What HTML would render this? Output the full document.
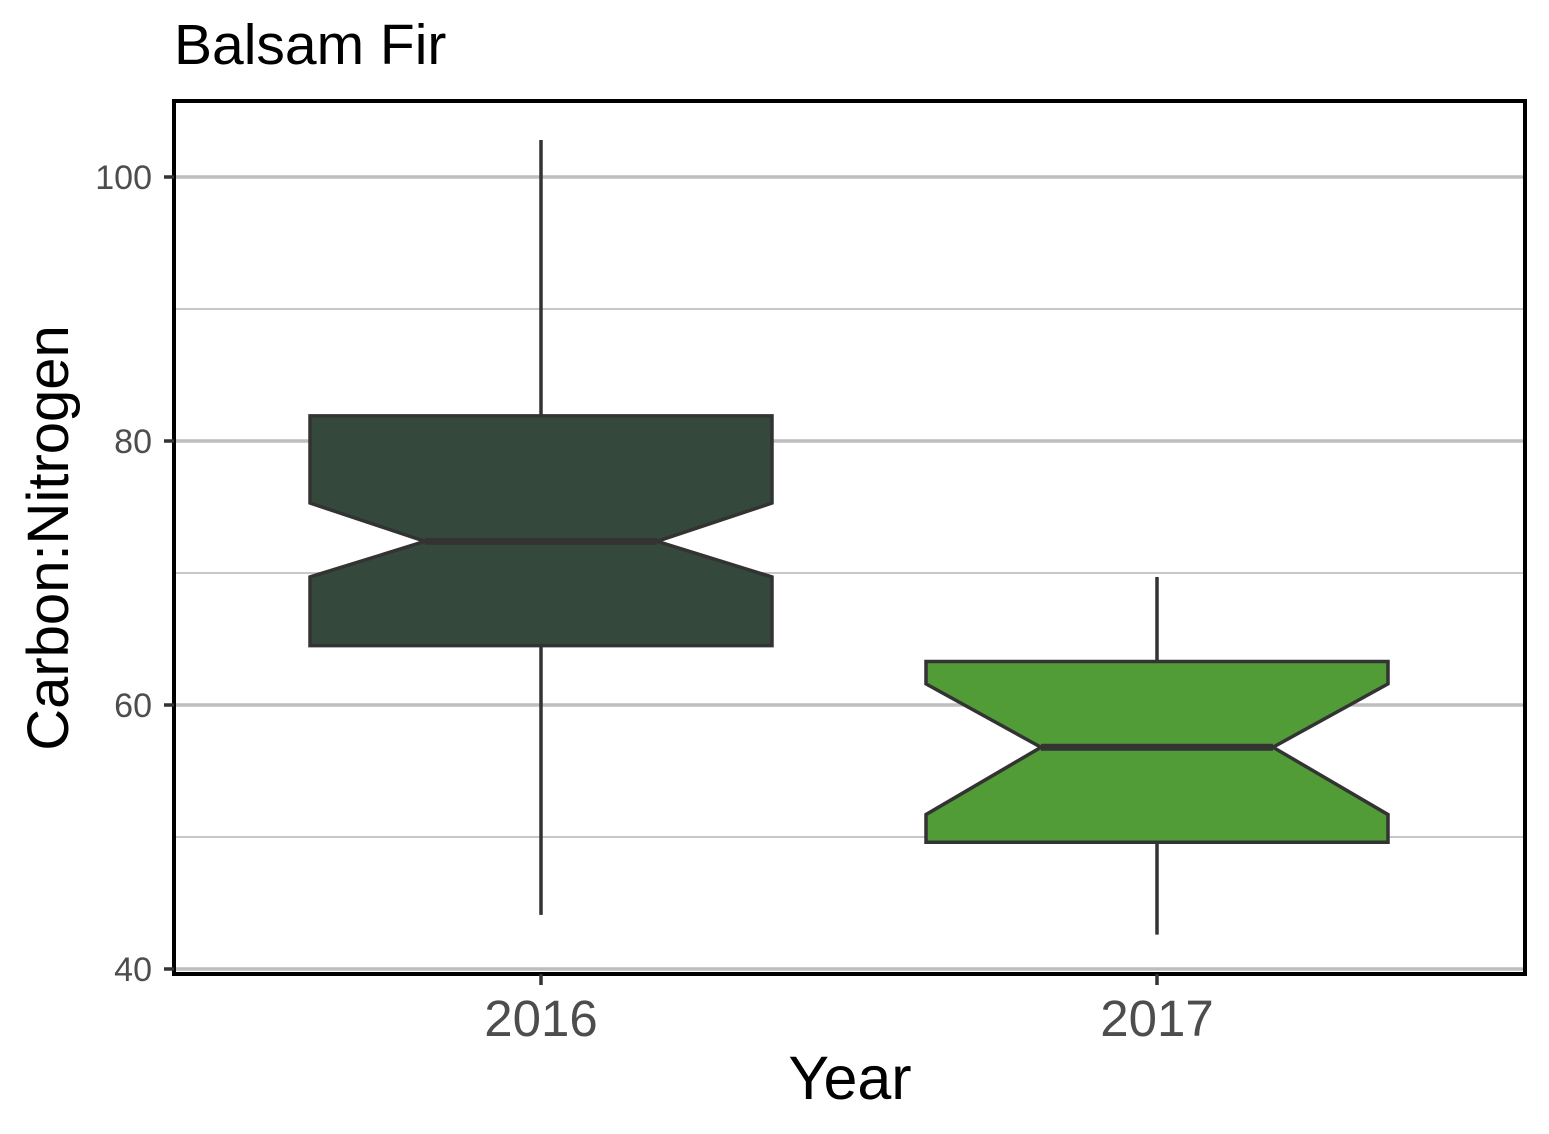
<!DOCTYPE html>
<html><head><meta charset="utf-8"><style>body{margin:0;background:#fff}svg{display:block;font-family:"Liberation Sans",sans-serif}</style></head>
<body>
<svg id="chart" width="1549" height="1134">
<text x="174" y="64" font-size="57" fill="#000">Balsam Fir</text>
<g id="grid"></g><g id="boxes"></g>
<rect x="174" y="101" width="1351" height="873" fill="none" stroke="#000" stroke-width="4"/>
<g id="axes"></g>
<text x="850" y="1099" font-size="61" text-anchor="middle" fill="#000">Year</text>
<text transform="translate(68,538) rotate(-90)" font-size="58" text-anchor="middle" fill="#000">Carbon:Nitrogen</text>
</svg>
<script>
const categories=["2016","2017"];
const whiskerLow=[44.1,42.6];
const q1=[64.5,49.6];
const notchLow=[69.7,51.7];
const median=[72.4,56.8];
const notchHigh=[75.3,61.6];
const q3=[81.9,63.3];
const whiskerHigh=[102.8,69.7];
const fills=["#34483c","#529c38"];
const yTicks=[40,60,80,100];
const yMinor=[50,70,90];
const NS="http://www.w3.org/2000/svg";
const y=v=>969-(v-40)*13.2;
const x=i=>541+i*616;
const halfW=231, notchW=116;
function mk(t,a,p){const e=document.createElementNS(NS,t);for(const k in a)e.setAttribute(k,a[k]);p.appendChild(e);return e;}
const grid=document.getElementById('grid'),boxes=document.getElementById('boxes'),axes=document.getElementById('axes');
yMinor.forEach(v=>{const l=mk('line',{x1:174,x2:1525,y1:y(v),y2:y(v),stroke:'#c8c8c8','stroke-width':2},grid);

});
yTicks.forEach(v=>{const l=mk('line',{x1:174,x2:1525,y1:y(v),y2:y(v),stroke:'#bebebe','stroke-width':3.5},grid);


const t=mk('line',{x1:164,x2:174,y1:y(v),y2:y(v),stroke:'#333','stroke-width':3.5},axes);


const tx=mk('text',{x:152,y:y(v)+12,'font-size':34,'text-anchor':'end',fill:'#4d4d4d'},axes);tx.textContent=v;

});
categories.forEach((c,i)=>{const cx=x(i);
const w=mk('line',{x1:cx,x2:cx,y1:y(whiskerLow[i]),y2:y(whiskerHigh[i]),stroke:'#333','stroke-width':3.5},boxes);


const pts=[[cx-halfW,y(q3[i])],[cx+halfW,y(q3[i])],[cx+halfW,y(notchHigh[i])],[cx+notchW,y(median[i])],[cx+halfW,y(notchLow[i])],[cx+halfW,y(q1[i])],[cx-halfW,y(q1[i])],[cx-halfW,y(notchLow[i])],[cx-notchW,y(median[i])],[cx-halfW,y(notchHigh[i])]];
const b=mk('polygon',{points:pts.map(p=>p.join(',')).join(' '),fill:fills[i],stroke:'#333','stroke-width':3.5},boxes);


const m=mk('line',{x1:cx-notchW,x2:cx+notchW,y1:y(median[i]),y2:y(median[i]),stroke:'#333','stroke-width':7},boxes);


const t=mk('line',{x1:cx,x2:cx,y1:974,y2:985,stroke:'#333','stroke-width':3.5},axes);


const tx=mk('text',{x:cx,y:1036,'font-size':51,'text-anchor':'middle',fill:'#4d4d4d'},axes);tx.textContent=c;

});
</script>
</body></html>
